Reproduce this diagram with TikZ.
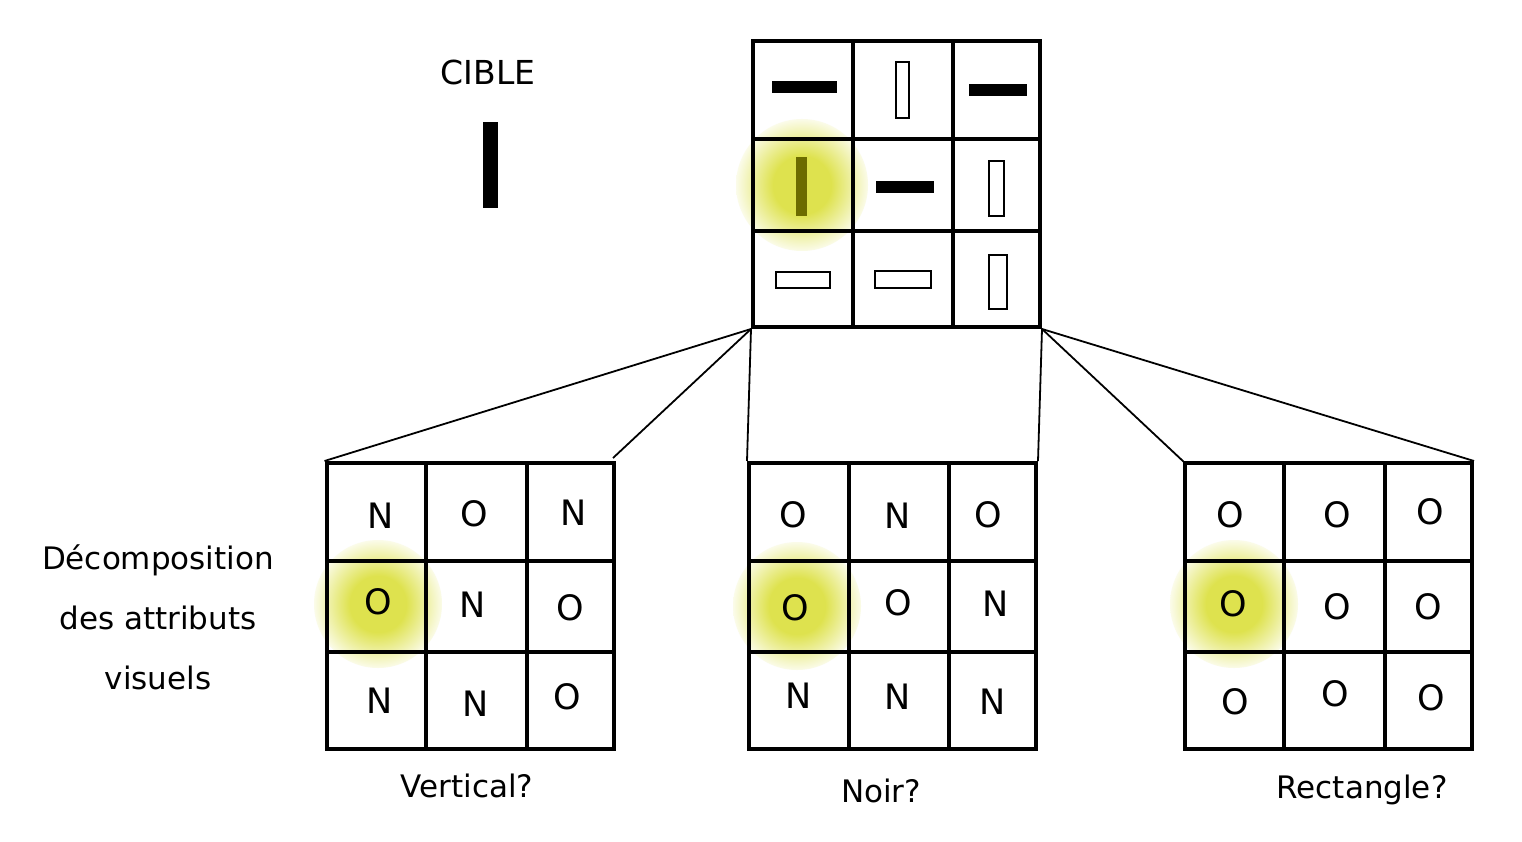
\documentclass[tikz,border=0pt]{standalone}
\usepackage{fontspec}
\setmainfont{DejaVu Sans}
\definecolor{glowc}{RGB}{222,226,78}
\definecolor{olivebar}{RGB}{108,108,0}
\pgfdeclareradialshading{glowshade}{\pgfpoint{0bp}{0bp}}{color(0bp)=(glowc); color(11bp)=(glowc); color(27bp)=(white); color(50bp)=(white)}
\tikzset{
  gridbox/.style={draw, line width=4pt, minimum width=287pt, minimum height=286pt, inner sep=0pt},
  gridline/.style={line width=4pt},
  link/.style={line width=1.8pt},
  hollow/.style={draw, line width=2pt, fill=white},
  letter/.style={inner sep=0pt, font=\fontsize{35}{42}\selectfont},
  caption/.style={inner sep=0pt, font=\fontsize{31}{37}\selectfont},
}
\begin{document}
\begin{tikzpicture}[x=1pt,y=-1pt]
\useasboundingbox[fill=white] (0,0) rectangle (1522,842);

% glows
\shade[shading=glowshade] (802,185) circle (66);
\shade[shading=glowshade] (378,604) circle (64);
\shade[shading=glowshade] (797,606) circle (64);
\shade[shading=glowshade] (1234,604) circle (64);

% target
\node[inner sep=0pt, font=\fontsize{33}{40}\selectfont] (cible) at (488,72) {CIBLE};
\fill (483,122) rectangle (498,208);

% top grid
\node[gridbox] (top) at (896.5,184) {};
\draw[gridline] (853,41) -- (853,327) (953,41) -- (953,327)
  (753,139) -- (1040,139) (753,231) -- (1040,231);
\fill (772,81) rectangle (837,93);
\draw[hollow] (896,62) rectangle (909,118);
\fill (969,84) rectangle (1027,96);
\fill[olivebar] (796,157) rectangle (807,216);
\fill (876,181) rectangle (934,193);
\draw[hollow] (989,161) rectangle (1004,216);
\draw[hollow] (776,272) rectangle (830,288);
\draw[hollow] (875,271) rectangle (931,288);
\draw[hollow] (989,255) rectangle (1007,309);

% bottom grids
\node[gridbox] (ga) at (470,606) {};
\node[gridbox] (gb) at (892.5,606) {};
\node[gridbox] (gc) at (1328.5,606) {};
\draw[gridline] (426,463) -- (426,749) (527,463) -- (527,749)
  (327,561) -- (613,561) (327,652) -- (613,652);
\draw[gridline] (849,463) -- (849,749) (949,463) -- (949,749)
  (749,561) -- (1036,561) (749,652) -- (1036,652);
\draw[gridline] (1284,463) -- (1284,749) (1385,463) -- (1385,749)
  (1185,561) -- (1472,561) (1185,652) -- (1472,652);

% connectors
\coordinate (gaR) at (613,458);
\coordinate (gcL) at (1185,463);
\draw[link] (top.south west) -- (ga.north west);
\draw[link] (top.south west) -- (gaR);
\draw[link] (top.south west) -- (gb.north west);
\draw[link] (top.south east) -- (gb.north east);
\draw[link] (top.south east) -- (gcL);
\draw[link] (top.south east) -- (gc.north east);

% letters grid A
\node[letter] (a11) at (381,516) {N};
\node[letter] (a12) at (474,514) {O};
\node[letter] (a13) at (574,513) {N};
\node[letter] (a21) at (378,602) {O};
\node[letter] (a22) at (473,605) {N};
\node[letter] (a23) at (570,608) {O};
\node[letter] (a31) at (380,701) {N};
\node[letter] (a32) at (476,704) {N};
\node[letter] (a33) at (567,697) {O};
% letters grid B
\node[letter] (b11) at (793,515) {O};
\node[letter] (b12) at (898,516) {N};
\node[letter] (b13) at (988,515) {O};
\node[letter] (b21) at (795,608) {O};
\node[letter] (b22) at (898,603) {O};
\node[letter] (b23) at (996,604) {N};
\node[letter] (b31) at (799,696) {N};
\node[letter] (b32) at (898,697) {N};
\node[letter] (b33) at (993,702) {N};
% letters grid C
\node[letter] (c11) at (1230,515) {O};
\node[letter] (c12) at (1337,515) {O};
\node[letter] (c13) at (1430,512) {O};
\node[letter] (c21) at (1233,604) {O};
\node[letter] (c22) at (1337,607) {O};
\node[letter] (c23) at (1428,607) {O};
\node[letter] (c31) at (1235,702) {O};
\node[letter] (c32) at (1335,694) {O};
\node[letter] (c33) at (1431,698) {O};

% captions
\node[caption] (capa) at (467,786) {Vertical?};
\node[caption] (capb) at (881,791) {Noir?};
\node[caption] (capc) at (1362,790) {Rectangle?};
\node[align=center, inner sep=0pt, font=\fontsize{31}{60}\selectfont] (decomp) at (158,617) {Décomposition\\des attributs\\visuels};
\end{tikzpicture}
\end{document}
